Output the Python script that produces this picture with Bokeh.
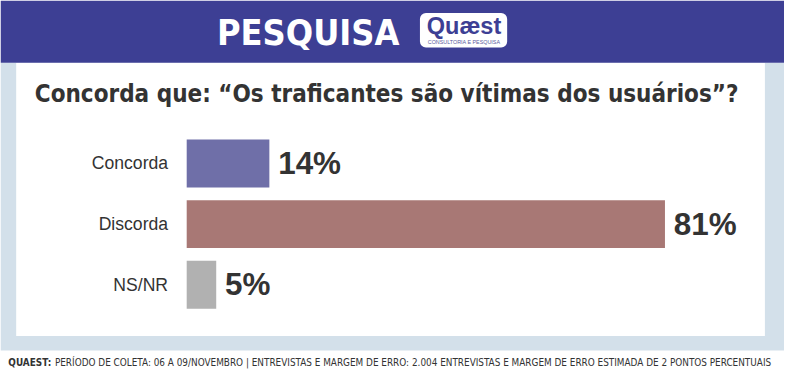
from bokeh.plotting import figure
from bokeh.models import Range1d, ColumnDataSource
from bokeh.core.properties import value
from bokeh.embed import file_html
from bokeh.resources import INLINE

# ---- data ----
categories = ["Concorda", "Discorda", "NS/NR"]
values = [14, 81, 5]
value_labels = ["14%", "81%", "5%"]
colors = ["#6f6fa8", "#a87875", "#b1b1b1"]

header_text = "PESQUISA"
logo_text = "Quæst"
logo_sub = "CONSULTORIA E PESQUISA"
title_text = "Concorda que: “Os traficantes são vítimas dos usuários”?"
footer_bold = "QUAEST:"
footer_text = ("PERÍODO DE COLETA: 06 A 09/NOVEMBRO | ENTREVISTAS E MARGEM DE ERRO: "
               "2.004 ENTREVISTAS E MARGEM DE ERRO ESTIMADA DE 2 PONTOS PERCENTUAIS")

# ---- layout (reference pixel space 800x387) ----
W, H = 784, 371
REF_W, REF_H = 800, 387
FS = W / REF_W
X0 = 190.0          # bar baseline (ref px)
PX_PER_PCT = 6.025
Y0 = 170.0          # centre of first bar (ref px)
ROW = 63.25
BAR_H = 50.0 / ROW

NARROW = "Liberation Sans Narrow, DejaVu Sans Condensed, sans-serif"
SANS = "Liberation Sans, Arial, sans-serif"

def fs(px):
    return f"{px * FS:.1f}px"

p = figure(width=W, height=H, output_backend="svg", toolbar_location=None,
           x_range=Range1d(-X0 / PX_PER_PCT, (REF_W - X0) / PX_PER_PCT),
           y_range=Range1d((REF_H - Y0) / ROW, -Y0 / ROW),
           x_axis_type=None, y_axis_type=None, min_border=0)
p.extra_x_ranges = {"px": Range1d(0, REF_W)}
p.extra_y_ranges = {"px": Range1d(REF_H, 0)}
p.grid.visible = False
p.outline_line_color = None
p.background_fill_color = "white"
p.border_fill_color = "white"

PX = dict(x_range_name="px", y_range_name="px")

# background frame
p.quad(left=0, right=REF_W, top=65, bottom=365, fill_color="#d3e0ea", line_color=None, **PX)
p.quad(left=16, right=780, top=65, bottom=350, fill_color="white", line_color=None, **PX)
p.quad(left=0, right=REF_W, top=0, bottom=65, fill_color="#3d3f94", line_color=None, **PX)

# header texts
p.text(x=[314], y=[33], text=[header_text], text_align="center", text_baseline="middle",
       text_font=value(NARROW), text_font_style="bold", text_font_size=fs(36.5),
       text_color="white", **PX)
p.quad(left=428, right=517, top=13, bottom=49, fill_color="white", line_color=None,
       border_radius=6, **PX)
p.text(x=[473], y=[27], text=[logo_text], text_align="center", text_baseline="middle",
       text_font=value(SANS), text_font_style="bold", text_font_size=fs(24),
       text_color="#3d3f94", **PX)
p.text(x=[473], y=[43], text=[logo_sub], text_align="center", text_baseline="middle",
       text_font=value(SANS), text_font_size=fs(5.5),
       text_color="#5a5c9e", **PX)

# title
p.text(x=[35], y=[98], text=[title_text], text_align="left", text_baseline="middle",
       text_font=value(NARROW), text_font_style="bold", text_font_size=fs(24.5),
       text_color="#333333", **PX)

# bars
idx = list(range(len(categories)))
src = ColumnDataSource(dict(y=idx, v=values, lab=value_labels, cat=categories, color=colors))
p.hbar(y="y", left=0, right="v", height=BAR_H, fill_color="color", line_color=None, source=src)
p.text(x="v", y="y", text="lab", x_offset=9 * FS, text_baseline="middle",
       text_font=value(SANS), text_font_style="bold", text_font_size=fs(32),
       text_color="#333333", source=src)
p.text(x=0, y="y", text="cat", x_offset=-19 * FS, text_align="right", text_baseline="middle",
       text_font=value(SANS), text_font_size=fs(18), text_color="#333333", source=src)

# footer
p.text(x=[8], y=[378], text=[footer_bold], text_baseline="middle",
       text_font=value(NARROW), text_font_style="bold", text_font_size=fs(10.15),
       text_color="#333333", **PX)
p.text(x=[55.5], y=[378], text=[footer_text], text_baseline="middle",
       text_font=value(NARROW), text_font_size=fs(10.15),
       text_color="#333333", **PX)

open("out.html", "w").write(file_html(p, INLINE))
